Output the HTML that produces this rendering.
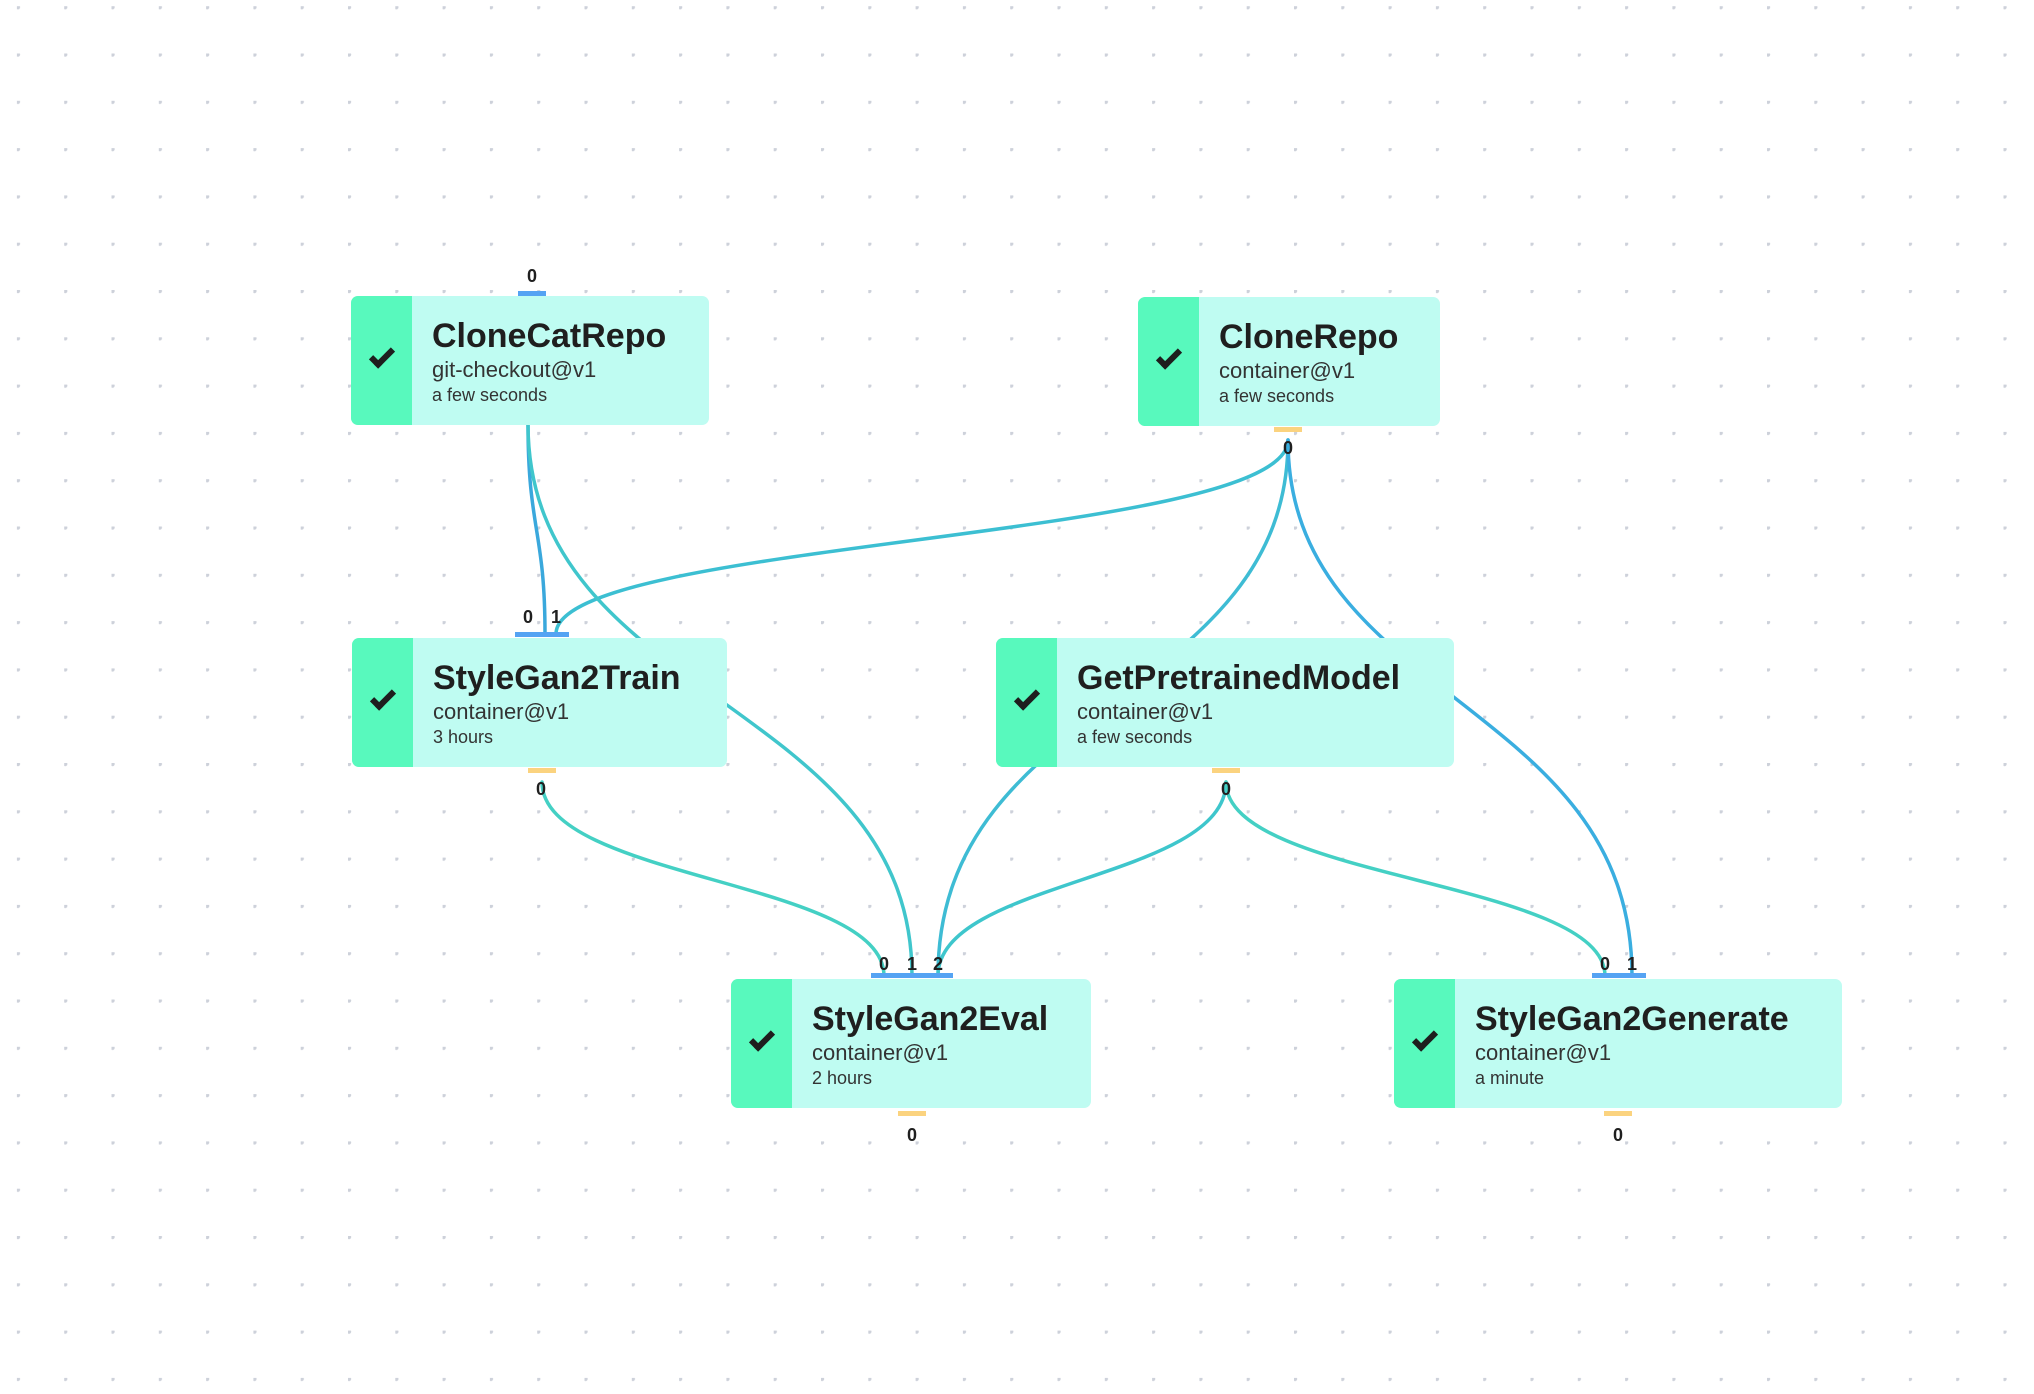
<!DOCTYPE html>
<html><head><meta charset="utf-8"><style>
html,body{margin:0;padding:0;background:#fff;}
body{width:2034px;height:1394px;position:relative;overflow:hidden;font-family:"Liberation Sans",sans-serif;}
svg{position:absolute;left:0;top:0;}
.node{position:absolute;height:129px;background:#bffcf2;border-radius:7px;overflow:hidden;}
.strip{position:absolute;left:0;top:0;bottom:0;width:61px;background:#58f9bd;}
.chk{position:absolute;left:19px;top:53px;width:24px;height:13px;border-left:6px solid #1e1e1e;border-bottom:6px solid #1e1e1e;transform:rotate(-45deg);transform-origin:center;box-sizing:border-box;}
.t{position:absolute;left:81px;top:21px;font-size:34px;font-weight:bold;color:#1f1f1f;white-space:nowrap;}
.s{position:absolute;left:81px;top:61px;font-size:22px;color:#333;white-space:nowrap;}
.d{position:absolute;left:81px;top:89px;font-size:18px;color:#333;white-space:nowrap;}
.lbl{position:absolute;font-size:18px;font-weight:bold;color:#1f1f1f;transform:translateX(-50%);}
</style></head><body>
<svg width="2034" height="1394">
<defs>
<pattern id="dots" x="348" y="290" width="47.3" height="47.3" patternUnits="userSpaceOnUse"><circle cx="1" cy="1" r="2.2" fill="#cdd1da"/></pattern>
</defs>
<rect width="2034" height="1394" fill="url(#dots)"/>
<g fill="none" stroke-width="3.5" stroke-linecap="round">
<path d="M528 424 C528 530 545 530 545 634" stroke="#3aa8dc"/>
<path d="M1288 440 C1288 540 556 540 556 634" stroke="#3cbfd2"/>
<path d="M528 424 C528 700 912 700 912 976" stroke="#40c6cc"/>
<path d="M1288 440 C1288 700 938 700 938 976" stroke="#3ebcd4"/>
<path d="M1288 440 C1288 700 1632 700 1632 976" stroke="#3aaee0"/>
<path d="M542 782 C542 880 884 880 884 976" stroke="#44d0c4"/>
<path d="M1226 782 C1226 880 938 880 938 976" stroke="#3ec6cc"/>
<path d="M1226 782 C1226 880 1605 880 1605 976" stroke="#44d0c4"/>
</g>
<g>
<rect x="518" y="291" width="28" height="5" fill="#55a3f3"/>
<rect x="1274" y="427" width="28" height="5" fill="#fbd37f"/>
<rect x="515" y="632" width="54" height="5" fill="#55a3f3"/>
<rect x="528" y="768" width="28" height="5" fill="#fbd37f"/>
<rect x="1212" y="768" width="28" height="5" fill="#fbd37f"/>
<rect x="871" y="973" width="82" height="5" fill="#55a3f3"/>
<rect x="898" y="1111" width="28" height="5" fill="#fbd37f"/>
<rect x="1592" y="973" width="54" height="5" fill="#55a3f3"/>
<rect x="1604" y="1111" width="28" height="5" fill="#fbd37f"/>
</g>
</svg>
<div class="node" style="left:351px;top:296px;width:358px"><div class="strip"><div class="chk"></div></div><div class="t">CloneCatRepo</div><div class="s">git-checkout@v1</div><div class="d">a few seconds</div></div>
<div class="node" style="left:1138px;top:297px;width:302px"><div class="strip"><div class="chk"></div></div><div class="t">CloneRepo</div><div class="s">container@v1</div><div class="d">a few seconds</div></div>
<div class="node" style="left:352px;top:638px;width:375px"><div class="strip"><div class="chk"></div></div><div class="t">StyleGan2Train</div><div class="s">container@v1</div><div class="d">3 hours</div></div>
<div class="node" style="left:996px;top:638px;width:458px"><div class="strip"><div class="chk"></div></div><div class="t">GetPretrainedModel</div><div class="s">container@v1</div><div class="d">a few seconds</div></div>
<div class="node" style="left:731px;top:979px;width:360px"><div class="strip"><div class="chk"></div></div><div class="t">StyleGan2Eval</div><div class="s">container@v1</div><div class="d">2 hours</div></div>
<div class="node" style="left:1394px;top:979px;width:448px"><div class="strip"><div class="chk"></div></div><div class="t">StyleGan2Generate</div><div class="s">container@v1</div><div class="d">a minute</div></div>
<div class="lbl" style="left:532px;top:266px">0</div>
<div class="lbl" style="left:1288px;top:438px">0</div>
<div class="lbl" style="left:528px;top:607px">0</div>
<div class="lbl" style="left:556px;top:607px">1</div>
<div class="lbl" style="left:541px;top:779px">0</div>
<div class="lbl" style="left:1226px;top:779px">0</div>
<div class="lbl" style="left:884px;top:954px">0</div>
<div class="lbl" style="left:912px;top:954px">1</div>
<div class="lbl" style="left:938px;top:954px">2</div>
<div class="lbl" style="left:912px;top:1125px">0</div>
<div class="lbl" style="left:1605px;top:954px">0</div>
<div class="lbl" style="left:1632px;top:954px">1</div>
<div class="lbl" style="left:1618px;top:1125px">0</div>
</body></html>
